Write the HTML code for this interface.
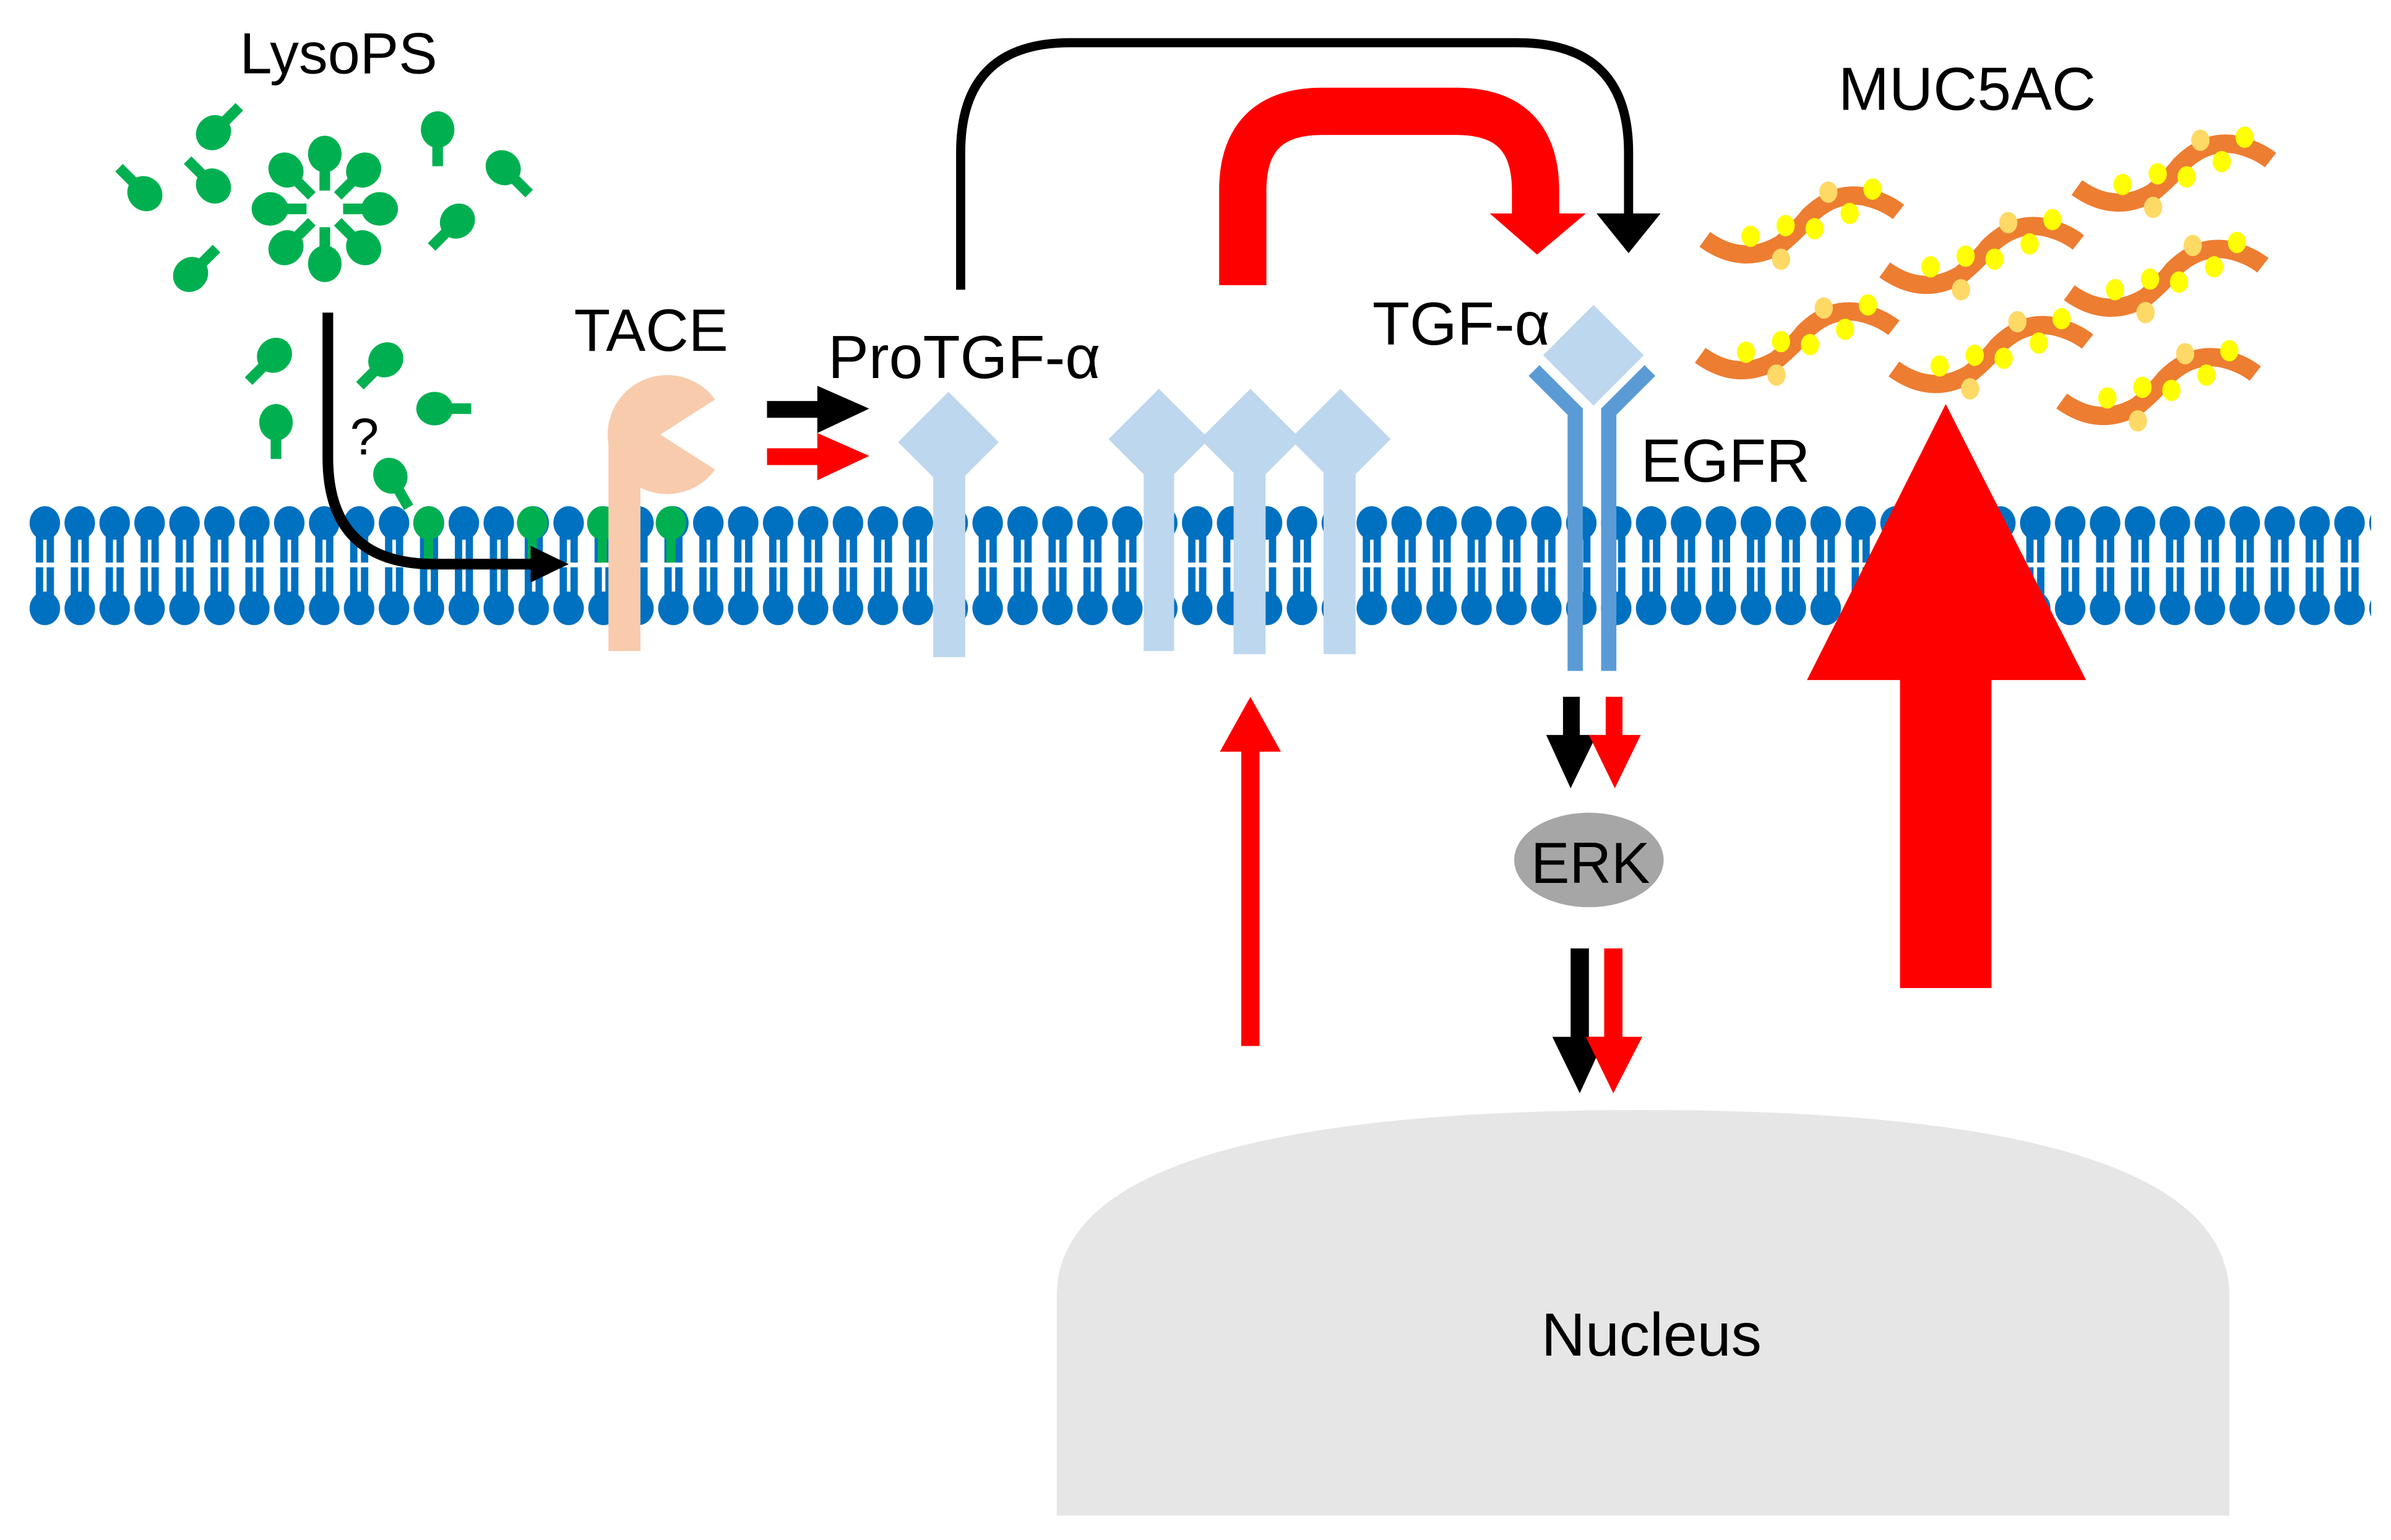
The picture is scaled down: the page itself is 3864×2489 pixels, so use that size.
<!DOCTYPE html>
<html><head><meta charset="utf-8"><style>html,body{margin:0;padding:0;background:#fff}svg{display:block}text{font-family:"Liberation Sans",sans-serif}</style></head><body>
<svg width="3864" height="2489" viewBox="0 0 1568 1010" preserveAspectRatio="none" xmlns="http://www.w3.org/2000/svg">
<defs>
<pattern id="mem" x="18" y="0" width="22.9" height="1010" patternUnits="userSpaceOnUse">
<ellipse cx="11.4" cy="343" rx="10" ry="11" fill="#0070C0"/>
<rect x="5.5" y="345" width="4.8" height="24" fill="#0070C0"/>
<rect x="12.6" y="345" width="4.8" height="24" fill="#0070C0"/>
<rect x="5.5" y="372" width="4.8" height="25" fill="#0070C0"/>
<rect x="12.6" y="372" width="4.8" height="25" fill="#0070C0"/>
<ellipse cx="11.4" cy="399" rx="10" ry="11" fill="#0070C0"/>
</pattern>
<g id="lip"><rect x="-3.5" y="0" width="7" height="24" fill="#00B050"/><ellipse cx="0" cy="0" rx="11" ry="12" fill="#00B050"/></g>
<g id="muc">
<path d="M0,37 Q25,55 50,40 Q62,30 68,22 Q85,5 105,9 Q118,12 127,19" fill="none" stroke="#ED7D31" stroke-width="12"/>
<ellipse cx="30" cy="35" rx="6" ry="7" fill="#FFFF00"/>
<ellipse cx="53" cy="28" rx="6" ry="7" fill="#FFFF00"/>
<ellipse cx="72" cy="30" rx="6" ry="7" fill="#FFFF00"/>
<ellipse cx="95" cy="20" rx="6" ry="7" fill="#FFFF00"/>
<ellipse cx="110" cy="4" rx="6" ry="7" fill="#FFFF00"/>
<ellipse cx="81" cy="6" rx="6" ry="7" fill="#FFD966"/>
<ellipse cx="50" cy="50" rx="6" ry="7" fill="#FFD966"/>
</g>
</defs>
<rect x="18" y="330" width="1537" height="82" fill="url(#mem)"/>
<rect x="18" y="369" width="1537" height="3" fill="#fff"/>
<g fill="#00B050">
<ellipse cx="281" cy="343" rx="10" ry="11"/><rect x="278" y="345" width="6" height="24"/>
<ellipse cx="349" cy="343" rx="10" ry="11"/><rect x="346" y="345" width="6" height="24"/>
<ellipse cx="395" cy="343" rx="10" ry="11"/><rect x="392" y="345" width="6" height="24"/>
<ellipse cx="440" cy="343" rx="10" ry="11"/><rect x="437" y="345" width="6" height="24"/>
</g>
<text x="222" y="48" font-size="38" text-anchor="middle">LysoPS</text>
<g transform="translate(213,137)">
<use href="#lip" transform="rotate(180) translate(0,-36)"/>
<use href="#lip" transform="rotate(225) translate(0,-36)"/>
<use href="#lip" transform="rotate(270) translate(0,-36)"/>
<use href="#lip" transform="rotate(315) translate(0,-36)"/>
<use href="#lip" transform="rotate(0) translate(0,-36)"/>
<use href="#lip" transform="rotate(45) translate(0,-36)"/>
<use href="#lip" transform="rotate(90) translate(0,-36)"/>
<use href="#lip" transform="rotate(135) translate(0,-36)"/>
</g>
<use href="#lip" transform="translate(140,87) rotate(-135)"/>
<use href="#lip" transform="translate(95,127) rotate(135)"/>
<use href="#lip" transform="translate(140,122) rotate(135)"/>
<use href="#lip" transform="translate(287,85) rotate(0)"/>
<use href="#lip" transform="translate(330,110) rotate(-45)"/>
<use href="#lip" transform="translate(300,145) rotate(45)"/>
<use href="#lip" transform="translate(125,180) rotate(-135)"/>
<use href="#lip" transform="translate(180,233) rotate(45)"/>
<use href="#lip" transform="translate(253,236) rotate(45)"/>
<use href="#lip" transform="translate(181,277) rotate(0)"/>
<use href="#lip" transform="translate(285,268) rotate(-90)"/>
<use href="#lip" transform="translate(256,312) rotate(-30)"/>
<path d="M215,205 L215,300 Q215,370 285,370 L350,370" fill="none" stroke="#000" stroke-width="7"/>
<polygon points="348,358 373,370 348,382" fill="#000"/>
<text x="239" y="298" font-size="34" text-anchor="middle">?</text>
<text x="427" y="230" font-size="39" text-anchor="middle">TACE</text>
<rect x="399" y="285" width="21" height="142" fill="#F8CBAD"/>
<path d="M433,285 L469,262 A39,39 0 1,0 469,308 Z" fill="#F8CBAD"/>
<rect x="503" y="263" width="40" height="11" fill="#000"/><polygon points="536,253 570,268 536,284" fill="#000"/>
<rect x="503" y="294" width="40" height="11" fill="#FF0000"/><polygon points="536,284 570,299 536,315" fill="#FF0000"/>
<text x="543" y="248" font-size="40">ProTGF-α</text>
<g fill="#BDD7EE">
<polygon points="622,257 655,290 622,323 589,290"/><rect x="612" y="300" width="21" height="131"/>
<polygon points="760,255 793,288 760,321 727,288"/><rect x="750" y="300" width="20" height="127"/>
<polygon points="820,255 853,288 820,321 787,288"/><rect x="809" y="300" width="21" height="129"/>
<polygon points="879,255 912,288 879,321 846,288"/><rect x="868" y="300" width="21" height="129"/>
</g>
<path d="M630,190 L630,100 Q630,28 702,28 L995,28 Q1068,28 1068,100 L1068,140" fill="none" stroke="#000" stroke-width="6"/>
<polygon points="1047,140 1089,140 1068,166" fill="#000"/>
<path d="M815,187 L815,125 Q815,73 867,73 L955,73 Q1007,73 1007,125 L1007,140" fill="none" stroke="#FF0000" stroke-width="31"/>
<polygon points="977,140 1040,140 1008,167" fill="#FF0000"/>
<text x="900" y="226" font-size="40">TGF-α</text>
<polygon points="1045,200 1078,233 1045,266 1012,233" fill="#BDD7EE"/>
<g fill="none" stroke="#5B9BD5" stroke-width="10">
<path d="M1033,440 L1033,270 L1006,243"/>
<path d="M1055,440 L1055,270 L1082,243"/>
</g>
<text x="1076" y="316" font-size="40">EGFR</text>
<rect x="1025" y="457" width="11" height="30" fill="#000"/><polygon points="1014,482 1047,482 1030,517" fill="#000"/>
<rect x="1053" y="457" width="11" height="30" fill="#FF0000"/><polygon points="1042,482 1076,482 1059,517" fill="#FF0000"/>
<ellipse cx="1042" cy="564" rx="49" ry="31" fill="#A6A6A6"/>
<text x="1043" y="579" font-size="38" text-anchor="middle">ERK</text>
<rect x="1030" y="622" width="12" height="60" fill="#000"/><polygon points="1018,680 1053,680 1036,717" fill="#000"/>
<rect x="1052" y="622" width="12" height="60" fill="#FF0000"/><polygon points="1040,680 1077,680 1058,717" fill="#FF0000"/>
<rect x="814" y="490" width="12" height="196" fill="#FF0000"/>
<polygon points="800,493 840,493 820,457" fill="#FF0000"/>
<rect x="1246" y="440" width="60" height="208" fill="#FF0000"/>
<polygon points="1276,265 1368,446 1185,446" fill="#FF0000"/>
<text x="1290" y="72" font-size="40" text-anchor="middle">MUC5AC</text>
<use href="#muc" transform="translate(1118,120)"/>
<use href="#muc" transform="translate(1236,140)"/>
<use href="#muc" transform="translate(1362,86)"/>
<use href="#muc" transform="translate(1115,196)"/>
<use href="#muc" transform="translate(1242,205)"/>
<use href="#muc" transform="translate(1357,155)"/>
<use href="#muc" transform="translate(1352,226)"/>
<path d="M693,994 L693,850 Q693,728 1077,728 Q1462,728 1462,850 L1462,994 Z" fill="#E7E6E6"/>
<text x="1083" y="889" font-size="40" text-anchor="middle">Nucleus</text>
</svg>
</body></html>
